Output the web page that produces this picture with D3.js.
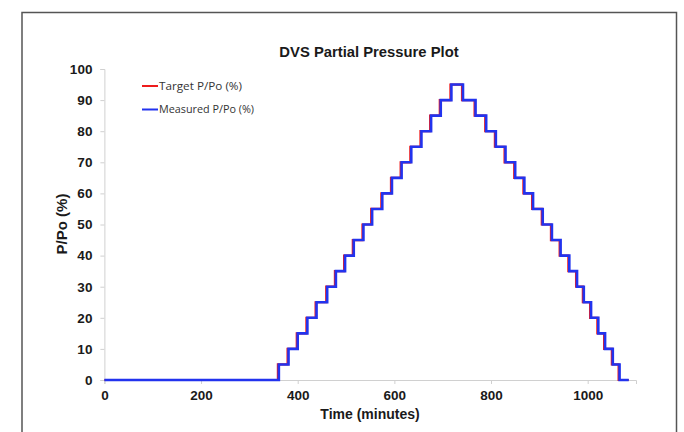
<!DOCTYPE html>
<html>
<head>
<meta charset="utf-8">
<script src="https://cdn.jsdelivr.net/npm/d3@7"></script>
<style>
  html, body { margin: 0; padding: 0; background: #fff; }
  svg { display: block; font-family: "Liberation Sans", Arial, sans-serif; }
</style>
</head>
<body>
<svg id="chart" width="684" height="432"></svg>
<script>
// Humidity levels (%) held at each step of the sorption / desorption cycle
const levels = [0, 5, 10, 15, 20, 25, 30, 35, 40, 45, 50, 55, 60, 65, 70, 75, 80, 85, 90, 95,
                90, 85, 80, 75, 70, 65, 60, 55, 50, 45, 40, 35, 30, 25, 20, 15, 10, 5, 0];
// Time (minutes) at which the set-point moves to each level
const targetTimes = [0, 359, 379, 398, 418, 437, 459, 477, 496, 514, 534, 552, 573, 593, 613, 633, 654, 674, 694, 716,
                     740, 766, 788, 808, 828, 848, 867, 885, 905, 924, 942, 960, 976, 990, 1005, 1020, 1034, 1050, 1064];
// Time (minutes) at which the measured humidity reaches each level
const measuredTimes = [0, 361, 381, 400, 420, 439, 461, 479, 498, 516, 536, 554, 575, 595, 615, 635, 656, 676, 696, 718,
                       742, 768, 790, 810, 830, 850, 869, 887, 907, 926, 944, 962, 978, 992, 1007, 1022, 1036, 1052, 1066];
const endTime = 1085;
const xTicks = [0, 200, 400, 600, 800, 1000];
const yTicks = [0, 10, 20, 30, 40, 50, 60, 70, 80, 90, 100];
const seriesNames = ["Target P/Po (%)", "Measured P/Po (%)"];
const seriesColors = ["#ee1c1c", "#2233ee"];

const svg = d3.select("#chart");

// outer frame
svg.append("rect")
  .attr("x", 22).attr("y", 12.5).attr("width", 654.5).attr("height", 440)
  .attr("fill", "#fff").attr("stroke", "#555").attr("stroke-width", 1.5);

const x = d3.scaleLinear().domain([0, 1100]).range([104.4, 636]);
const y = d3.scaleLinear().domain([0, 100]).range([380, 69]);

const styleTicks = g => g.selectAll(".tick text")
  .attr("font-size", 13.5).attr("font-weight", "bold").attr("fill", "#1a1a1a")
  .attr("font-family", "'Liberation Sans', Arial, sans-serif");

// y axis
const yAxis = svg.append("g").attr("transform", `translate(${x(0)},0)`)
  .call(d3.axisLeft(y).tickValues(yTicks).tickSize(4).tickPadding(8).tickFormat(d3.format("d")));
yAxis.select(".domain").attr("stroke", "#d0d0d0");
yAxis.selectAll(".tick line").attr("stroke", "#d0d0d0");
styleTicks(yAxis);

// x axis
const xAxis = svg.append("g").attr("transform", `translate(0,${y(0)})`)
  .call(d3.axisBottom(x).tickValues(xTicks).tickSizeOuter(0).tickSize(4).tickPadding(6).tickFormat(d3.format("d")));
xAxis.select(".domain").attr("stroke", "#d0d0d0");
xAxis.selectAll(".tick line").attr("stroke", "#d0d0d0");
styleTicks(xAxis);

// step lines
const line = d3.line().curve(d3.curveStepAfter).x(d => x(d[0])).y(d => y(d[1]));
const toPoints = times => times.map((t, i) => [t, levels[i]]).concat([[endTime, levels[levels.length - 1]]]);

svg.append("path").datum(toPoints(targetTimes))
  .attr("d", line).attr("fill", "none").attr("stroke", seriesColors[0]).attr("stroke-width", 2.2);
svg.append("path").datum(toPoints(measuredTimes))
  .attr("d", line).attr("fill", "none").attr("stroke", seriesColors[1]).attr("stroke-width", 2.6);

// title
svg.append("text").attr("x", 369).attr("y", 57).attr("text-anchor", "middle")
  .attr("font-size", 14.8).attr("font-weight", "bold").attr("fill", "#1a1a1a")
  .text("DVS Partial Pressure Plot");

// axis titles
svg.append("text").attr("x", 370).attr("y", 419).attr("text-anchor", "middle")
  .attr("font-size", 14).attr("font-weight", "bold").attr("fill", "#1a1a1a")
  .text("Time (minutes)");
svg.append("text").attr("transform", "translate(67,224) rotate(-90)").attr("text-anchor", "middle")
  .attr("font-size", 15).attr("font-weight", "bold").attr("fill", "#1a1a1a")
  .text("P/Po (%)");

// legend
const legend = svg.append("g");
seriesNames.forEach((name, i) => {
  const ly = 86 + i * 23.5;
  legend.append("line").attr("x1", 142).attr("x2", 158).attr("y1", ly).attr("y2", ly)
    .attr("stroke", seriesColors[i]).attr("stroke-width", 2);
  legend.append("text").attr("x", 159).attr("y", ly + 3.5)
    .attr("font-size", 10).attr("fill", "#333")
    .attr("font-family", "'Open Sans', 'Liberation Sans', sans-serif")
    .attr("textLength", i === 0 ? 83 : 95).attr("lengthAdjust", "spacingAndGlyphs")
    .text(name);
});
</script>
</body>
</html>
